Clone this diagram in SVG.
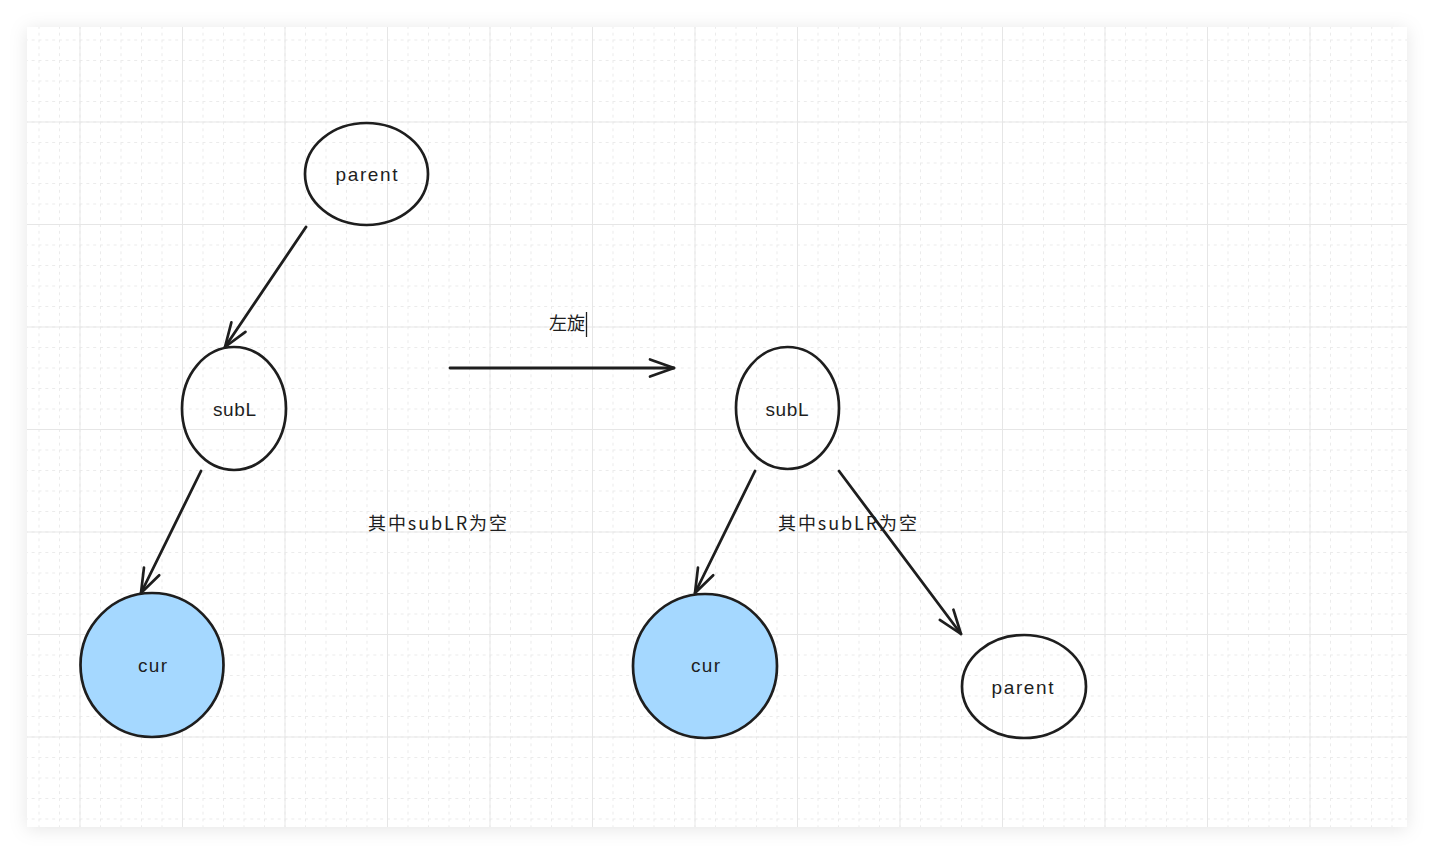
<svg xmlns="http://www.w3.org/2000/svg" width="1434" height="854" viewBox="0 0 1434 854">
<defs>
<filter id="shadow" x="-5%" y="-5%" width="110%" height="110%">
<feDropShadow dx="0" dy="2" stdDeviation="9" flood-color="#000" flood-opacity="0.10"/>
</filter>
<pattern id="minor" width="20.5" height="20.5" patternUnits="userSpaceOnUse" x="79.5" y="121.5">
<path d="M0 0.5H20.5M0.5 0V20.5" stroke="#ebebeb" stroke-width="1" fill="none" stroke-dasharray="3 3.8333"/>
</pattern>
<pattern id="major" width="102.5" height="102.5" patternUnits="userSpaceOnUse" x="79.5" y="121.5">
<path d="M0 0.5H102.5M0.5 0V102.5" stroke="#e6e6e6" stroke-width="1" fill="none"/>
</pattern>
<marker id="arrow" markerWidth="40" markerHeight="30" refX="0" refY="0" viewBox="-30 -15 40 30" orient="auto" markerUnits="userSpaceOnUse">
<path d="M-24 -8.5L0 0L-24 8.5" fill="none" stroke="#1e1e1e" stroke-width="2.7" stroke-linecap="round" stroke-linejoin="round"/>
</marker>
</defs>
<style>
.node{fill:none;stroke:#1e1e1e;stroke-width:2.7}
.cur{fill:#a5d8ff;stroke:#1e1e1e;stroke-width:2.7}
.lbl{font-family:"Liberation Sans","Noto Sans CJK SC",sans-serif;font-size:19px;fill:#1e1e1e;text-anchor:middle}
.cjk{font-family:"Noto Sans CJK SC","Liberation Sans",sans-serif;font-size:18px;fill:#1e1e1e;text-anchor:middle}
.edge{fill:none;stroke:#1e1e1e;stroke-width:2.8;stroke-linecap:round;marker-end:url(#arrow)}
</style>
<rect width="1434" height="854" fill="#ffffff"/>
<rect x="27" y="27" width="1380" height="800" fill="#ffffff" filter="url(#shadow)"/>
<rect x="27" y="27" width="1380" height="800" fill="url(#minor)"/>
<rect x="27" y="27" width="1380" height="800" fill="url(#major)"/>

<g id="connectors">
<line class="edge" x1="306" y1="227" x2="225" y2="347"/>
<line class="edge" x1="201" y1="471" x2="141" y2="593"/>
<line class="edge" x1="450" y1="368" x2="674" y2="368"/>
<line class="edge" x1="755" y1="471" x2="695" y2="593"/>
<line class="edge" x1="839" y1="471" x2="961" y2="634"/>
</g>

<g id="parent-top">
<ellipse class="node" cx="366.5" cy="174" rx="61.5" ry="51"/>
<text class="lbl" x="366.5" y="181" textLength="62" lengthAdjust="spacing">parent</text>
</g>
<g id="subL-left">
<ellipse class="node" cx="234" cy="408.5" rx="52" ry="61.5"/>
<text class="lbl" x="234.5" y="416" textLength="43" lengthAdjust="spacing">subL</text>
</g>
<g id="cur-left">
<ellipse class="cur" cx="152" cy="665" rx="71.5" ry="72"/>
<text class="lbl" x="152.5" y="672" textLength="29" lengthAdjust="spacing">cur</text>
</g>
<g id="subL-right">
<ellipse class="node" cx="787.5" cy="408" rx="51.5" ry="61"/>
<text class="lbl" x="787" y="416" textLength="43" lengthAdjust="spacing">subL</text>
</g>
<g id="cur-right">
<ellipse class="cur" cx="705" cy="666" rx="72" ry="72"/>
<text class="lbl" x="705.5" y="672" textLength="29" lengthAdjust="spacing">cur</text>
</g>
<g id="parent-right">
<ellipse class="node" cx="1024" cy="686.5" rx="62" ry="51.5"/>
<text class="lbl" x="1022.5" y="694" textLength="62" lengthAdjust="spacing">parent</text>
</g>

<g id="label-rotate">
<text class="cjk" x="567" y="330" font-size="19">左旋</text>
<line x1="586.5" y1="312" x2="586.5" y2="337" stroke="#1e1e1e" stroke-width="1.3"/>
</g>
<g id="note-left">
<text class="cjk" x="437.5" y="530" textLength="139" lengthAdjust="spacing">其中subLR为空</text>
</g>
<g id="note-right">
<text class="cjk" x="847.5" y="530" textLength="139" lengthAdjust="spacing">其中subLR为空</text>
</g>
</svg>
